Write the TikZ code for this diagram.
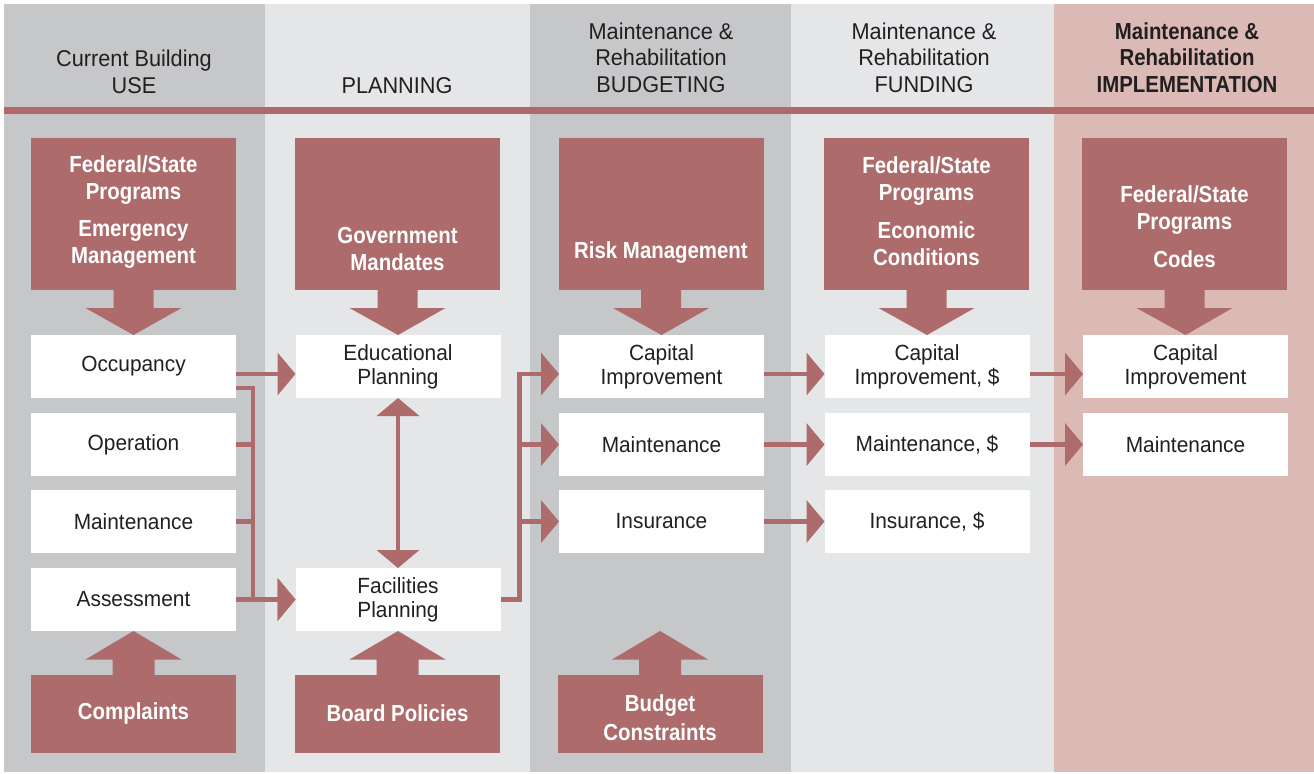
\documentclass[tikz,border=0pt]{standalone}
\usepackage{fontspec}
\setmainfont{Liberation Sans}[FakeStretch=0.95,BoldFeatures={FakeStretch=0.88}]
\usetikzlibrary{calc,arrows.meta}

\definecolor{rose}{RGB}{173,107,107}
\definecolor{barrose}{RGB}{176,104,104}
\definecolor{colgray}{RGB}{198,199,201}
\definecolor{colpale}{RGB}{229,230,232}
\definecolor{colpink}{RGB}{219,185,181}
\definecolor{inkgray}{RGB}{35,31,32}

\tikzset{
  whitebox/.style={fill=white, minimum width=41mm, minimum height=12.6mm, inner sep=0pt, outer sep=0pt,
    align=center, text=inkgray, font=\fontsize{12.5}{13.6}\selectfont},
  redbox/.style={fill=rose, minimum width=41mm, minimum height=30.4mm, inner sep=0pt, outer sep=0pt},
  basebox/.style={fill=rose, minimum width=41mm, minimum height=15.6mm, inner sep=0pt, outer sep=0pt,
    align=center, text=white, font=\bfseries\fontsize{13.2}{16.6}\selectfont},
  boxtext/.style={text=white, align=center, font=\bfseries\fontsize{13.2}{15.3}\selectfont},
  head/.style={anchor=base, text=inkgray, font=\fontsize{13}{15}\selectfont},
  busline/.style={draw=rose, line width=0.9mm},
  conn/.style={busline, -{Triangle[length=3.6mm,width=8.4mm]}},
  twoway/.style={busline, {Triangle[length=3.6mm,width=8.4mm]}-{Triangle[length=3.6mm,width=8.4mm]}}
}

\begin{document}
\begin{tikzpicture}[x=0.2mm,y=-0.2mm]
\useasboundingbox (0,0) rectangle (1314,773);
\fill[white] (0,0) rectangle (1314,773);
\fill[colgray] (4,4) rectangle (265,772);
\fill[colpale] (265,4) rectangle (530,772);
\fill[colgray] (530,4) rectangle (791,772);
\fill[colpale] (791,4) rectangle (1054,772);
\fill[colpink] (1054,4) rectangle (1314,772);
\fill[barrose] (4,107) rectangle (1314,114);

\node[head] (h1a) at (134,66) {Current Building};
\node[head] (h1b) at (134,93) {USE};
\node[head] (h2a) at (397,93) {PLANNING};
\node[head] (h3a) at (661,39) {Maintenance \&};
\node[head] (h3b) at (661,65) {Rehabilitation};
\node[head] (h3c) at (661,92) {BUDGETING};
\node[head] (h4a) at (924,39) {Maintenance \&};
\node[head] (h4b) at (924,65) {Rehabilitation};
\node[head] (h4c) at (924,92) {FUNDING};
\node[head,font=\bfseries\fontsize{13.2}{15}\selectfont] (h5a) at (1187,39) {Maintenance \&};
\node[head,font=\bfseries\fontsize{13.2}{15}\selectfont] (h5b) at (1187,65) {Rehabilitation};
\node[head,font=\bfseries\fontsize{13.2}{15}\selectfont] (h5c) at (1187,92) {IMPLEMENTATION};

\node[redbox] (fa) at (133.5,214) {};
\node[redbox] (gm) at (397.5,214) {};
\node[redbox] (rm) at (661,214) {};
\node[redbox] (fe) at (926.5,214) {};
\node[redbox] (fc) at (1184.5,214) {};
\node[boxtext] (fa-t) at (133.5,212) {Federal/State\\Programs\\[2.2mm]Emergency\\Management};
\node[boxtext] (gm-t) at (397.5,249) {Government\\Mandates};
\node[boxtext] (rm-t) at (661,253) {Risk Management};
\node[boxtext] (fe-t) at (926.5,211) {Federal/State\\Programs\\[2.2mm]Economic\\Conditions};
\node[boxtext] (fc-t) at (1184.5,227) {Federal/State\\Programs\\[2.2mm]Codes};

\node[whitebox] (oc) at (133.5,366.5) {Occupancy};
\node[whitebox] (op) at (133.5,444.5) {Operation};
\node[whitebox] (mt) at (133.5,521.5) {Maintenance};
\node[whitebox] (as) at (133.5,599.5) {Assessment};

\node[whitebox] (ep) at (398,366.5) {Educational\\Planning};
\node[whitebox] (fp) at (398,599.5) {Facilities\\Planning};

\node[whitebox] (ci) at (661.5,366.5) {Capital\\Improvement};
\node[whitebox] (mn) at (661.5,444.5) {Maintenance};
\node[whitebox] (ins) at (661.5,521.5) {Insurance};

\node[whitebox] (cf) at (927,366.5) {Capital\\Improvement, \$};
\node[whitebox] (mf) at (927,444.5) {Maintenance, \$};
\node[whitebox] (inf) at (927,521.5) {Insurance, \$};

\node[whitebox] (ck) at (1185.5,366.5) {Capital\\Improvement};
\node[whitebox] (mk) at (1185.5,444.5) {Maintenance};

\node[basebox] (cp) at (133.5,713.5) {Complaints};
\node[basebox] (bp) at (397.5,713.5) {Board Policies};
\node[basebox] (bc) at (660,713.5) {};
\node[boxtext,font=\bfseries\fontsize{13.2}{16.6}\selectfont] (bc-t) at (660,718) {Budget\\Constraints};
\coordinate (bc-tip) at (660,631);

\foreach \a/\b in {fa/oc,gm/ep,rm/ci,fe/cf,fc/ck}
  \fill[rose] ($(\a.south)+(-20,-1)$) -- ($(\a.south)+(-20,18)$) -- ($(\a.south)+(-48,18)$) -- (\b.north)
    -- ($(\a.south)+(48,18)$) -- ($(\a.south)+(20,18)$) -- ($(\a.south)+(20,-1)$) -- cycle;
\foreach \a/\b in {cp/as.south,bp/fp.south,bc/bc-tip}
  \fill[rose] ($(\a.north)+(-21,1)$) -- ($(\a.north)+(-21,-15)$) -- ($(\a.north)+(-48,-15)$) -- (\b)
    -- ($(\a.north)+(48,-15)$) -- ($(\a.north)+(21,-15)$) -- ($(\a.north)+(21,1)$) -- cycle;

\draw[conn] ([yshift=-1.5mm]oc.east) -- ([yshift=-1.5mm]ep.west);
\draw[conn] ([yshift=-4.3mm]oc.east) -- ++(17,0) |- (fp.west);
\draw[busline] (op.east) -- ++(17,0);
\draw[busline] (mt.east) -- ++(17,0);
\draw[conn] (as.east) -- (fp.west);
\draw[twoway] (ep.south) -- (fp.north);

\draw[conn] (fp.east) -- ++(19,0) |- ([yshift=-1.5mm]ci.west);
\draw[conn] ($(fp.east)+(19,0)$) |- (mn.west);
\draw[conn] ($(fp.east)+(19,0)$) |- (ins.west);

\draw[conn] ([yshift=-1.5mm]ci.east) -- ([yshift=-1.5mm]cf.west);
\draw[conn] (mn.east) -- (mf.west);
\draw[conn] (ins.east) -- (inf.west);

\draw[conn] ([yshift=-1.5mm]cf.east) -- ([yshift=-1.5mm]ck.west);
\draw[conn] (mf.east) -- (mk.west);
\end{tikzpicture}
\end{document}
